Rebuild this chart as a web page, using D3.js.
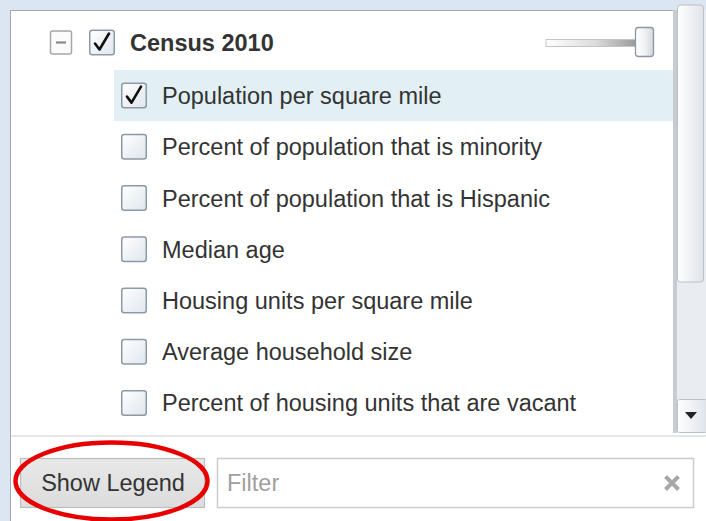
<!DOCTYPE html>
<html><head><meta charset="utf-8">
<script src="https://cdn.jsdelivr.net/npm/d3@7"></script>
<style>html,body{margin:0;padding:0;background:#dce6f2;overflow:hidden}svg{display:block}</style>
</head><body>
<script>
// ---- data ----
const groupTitle = "Census 2010";
const layers = [
  "Population per square mile",
  "Percent of population that is minority",
  "Percent of population that is Hispanic",
  "Median age",
  "Housing units per square mile",
  "Average household size",
  "Percent of housing units that are vacant"
];
const checked = [true, false, false, false, false, false, false];
const opacityValue = [1.0];
const buttonLabels = ["Show Legend"];
const filterPlaceholder = ["Filter"];

const W = 706, H = 521;
const font = "'Liberation Sans', Arial, sans-serif";
const fs = 23.5;
const svg = d3.select("body").append("svg").attr("width", W).attr("height", H);
const defs = svg.append("defs");

function lin(id, stops, x2, y2) {
  const g = defs.append("linearGradient").attr("id", id)
    .attr("x1", 0).attr("y1", 0).attr("x2", x2).attr("y2", y2);
  stops.forEach(s => g.append("stop").attr("offset", s[0]).attr("stop-color", s[1]));
}
lin("cbFill", [[0, "#ffffff"], [1, "#dfe6ee"]], 1, 1);
lin("thumbFill", [[0, "#ffffff"], [0.5, "#f1f2f4"], [1, "#d3d7dc"]], 1, 0);
lin("trackFill", [[0, "#ffffff"], [0.5, "#dcdcdc"], [1, "#8e8e8e"]], 1, 0);
lin("sThumb", [[0, "#ffffff"], [1, "#dfe3e8"]], 1, 0);
lin("btnFill", [[0, "#e8e8e8"], [1, "#dcdcdc"]], 0, 1);

// background + panel
svg.append("rect").attr("x", 0).attr("y", 0).attr("width", W).attr("height", H).attr("fill", "#dce6f2");
svg.append("rect").attr("x", 10.5).attr("y", 10.5).attr("width", W).attr("height", H)
  .attr("fill", "#ffffff").attr("stroke", "#a3a9b0").attr("stroke-width", 1);

// rows
const y = d3.scaleBand().domain(d3.range(layers.length)).range([70, 428.5]).padding(0);

// highlight selected row
svg.append("g").selectAll("rect").data(layers.filter((d, i) => checked[i]))
  .join("rect")
  .attr("x", 114).attr("y", d => y(layers.indexOf(d)))
  .attr("width", 673 - 114).attr("height", y.bandwidth())
  .attr("fill", "#e2f0f5");

function checkbox(g, x, yc, size, isChecked) {
  g.append("rect").attr("x", x + 0.75).attr("y", yc - size / 2 + 0.75)
    .attr("width", size - 1.5).attr("height", size - 1.5).attr("rx", 2.5)
    .attr("fill", "url(#cbFill)").attr("stroke", "#8d99a6").attr("stroke-width", 1.5);
  if (isChecked) {
    const s = size / 26;
    g.append("path")
      .attr("d", `M${x + 6 * s},${yc + 1 * s} L${x + 10.5 * s},${yc + 7 * s} L${x + 20 * s},${yc - 9 * s}`)
      .attr("fill", "none").attr("stroke", "#111").attr("stroke-width", 2.6 * s)
      .attr("stroke-linecap", "round").attr("stroke-linejoin", "round");
  }
}

// header row
const hy = 42.5;
const hg = svg.append("g");
hg.append("rect").attr("x", 50.5).attr("y", hy - 11.5).attr("width", 21).attr("height", 23).attr("rx", 2)
  .attr("fill", "#fbfbfb").attr("stroke", "#a7a7a7").attr("stroke-width", 1.5);
hg.append("line").attr("x1", 56).attr("x2", 66).attr("y1", hy).attr("y2", hy)
  .attr("stroke", "#8a8a8a").attr("stroke-width", 2.2);
checkbox(hg, 89, hy, 26, true);
hg.append("text").attr("x", 130).attr("y", hy).attr("dy", "0.36em")
  .attr("font-family", font).attr("font-size", fs).attr("font-weight", "bold")
  .attr("fill", "#333333").text(groupTitle);

// opacity slider
const sx = d3.scaleLinear().domain([0, 1]).range([546, 644]);
hg.append("rect").attr("x", 546).attr("y", 39.5).attr("width", sx(opacityValue[0]) - 546).attr("height", 7)
  .attr("fill", "url(#trackFill)").attr("stroke", "#c4c4c4").attr("stroke-width", 1);
hg.append("rect").attr("x", sx(opacityValue[0]) - 8.5).attr("y", 27.5).attr("width", 18).attr("height", 29).attr("rx", 3)
  .attr("fill", "url(#thumbFill)").attr("stroke", "#8b97a3").attr("stroke-width", 1.3);

// layer rows
const rows = svg.append("g").selectAll("g").data(layers).join("g")
  .attr("transform", (d, i) => `translate(0,${y(i) + y.bandwidth() / 2})`);
rows.each(function (d, i) { checkbox(d3.select(this), 121, 0, 26, checked[i]); });
rows.append("text").attr("x", 162).attr("y", 0).attr("dy", "0.36em")
  .attr("font-family", font).attr("font-size", fs).attr("fill", "#333333").text(d => d);

// scrollbar
const sb = svg.append("g");
sb.append("rect").attr("x", 673).attr("y", 10).attr("width", 33).attr("height", 423).attr("fill", "#e9edf1");
sb.append("rect").attr("x", 673).attr("y", 10).attr("width", 4).attr("height", 423).attr("fill", "#c6ccd2");
sb.append("rect").attr("x", 677.5).attr("y", 5).attr("width", 26).attr("height", 277).attr("rx", 3)
  .attr("fill", "url(#sThumb)").attr("stroke", "#b8c0c8").attr("stroke-width", 1);
sb.append("rect").attr("x", 677.5).attr("y", 399.5).attr("width", 30).attr("height", 33).attr("rx", 2)
  .attr("fill", "url(#sThumb)").attr("stroke", "#b8c0c8").attr("stroke-width", 1);
sb.append("path").attr("d", "M685,412 L697,412 L691,419 Z").attr("fill", "#222");

// bottom separator
svg.append("rect").attr("x", 11).attr("y", 435).attr("width", W).attr("height", 2).attr("fill", "#e4e6e8");

// button
const bg = svg.append("g");
bg.append("rect").attr("x", 20.5).attr("y", 458.5).attr("width", 184).attr("height", 49)
  .attr("fill", "url(#btnFill)").attr("stroke", "#bdbdbd").attr("stroke-width", 1.2);
bg.append("text").attr("x", 113).attr("y", 483).attr("dy", "0.36em").attr("text-anchor", "middle")
  .attr("font-family", font).attr("font-size", fs).attr("fill", "#333333").text(buttonLabels[0]);

// filter input
const fg = svg.append("g");
fg.append("rect").attr("x", 217.5).attr("y", 458.5).attr("width", 476).attr("height", 49)
  .attr("fill", "#ffffff").attr("stroke", "#cccccc").attr("stroke-width", 1.5);
fg.append("text").attr("x", 227).attr("y", 483).attr("dy", "0.36em")
  .attr("font-family", font).attr("font-size", fs).attr("fill", "#a0a0a0").text(filterPlaceholder[0]);
fg.append("path").attr("d", "M665.5,476.5 L678.5,489.5 M678.5,476.5 L665.5,489.5")
  .attr("stroke", "#a8a8a8").attr("stroke-width", 4).attr("stroke-linecap", "butt");

// red annotation ellipse
svg.append("ellipse").attr("cx", 111.5).attr("cy", 481).attr("rx", 96).attr("ry", 38.5)
  .attr("fill", "none").attr("stroke", "#e60000").attr("stroke-width", 4.5);
</script>
</body></html>
